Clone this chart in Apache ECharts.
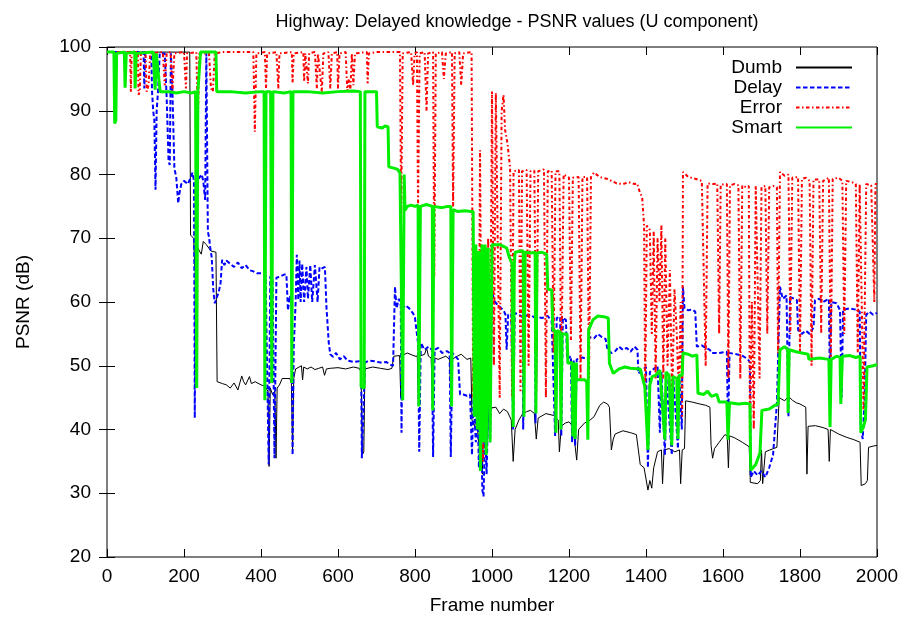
<!DOCTYPE html>
<html>
<head>
<meta charset="utf-8">
<title>Highway PSNR (U component)</title>
<script src="https://cdn.jsdelivr.net/npm/echarts@6/dist/echarts.min.js"></script>
<style>
  html, body { margin: 0; padding: 0; background: #fff; }
  #chart { width: 907px; height: 621px; }
</style>
</head>
<body>
<div id="chart"></div>
<script>
// Axis ranges and ticks
const frameTicks = [0, 200, 400, 600, 800, 1000, 1200, 1400, 1600, 1800, 2000];
const psnrTicks = [20, 30, 40, 50, 60, 70, 80, 90, 100];
const seriesNames = ['Dumb', 'Delay', 'Error', 'Smart'];

// [frame, PSNR dB] samples per scheme
const dumb = [[0,99.2],[215,99.2],[217,70.5],[225,70],[228,65.5],[232,69],[240,68],[245,67.5],[250,69.5],[258,69],[270,68],[283,67.8],[286,47.5],[300,47.2],[310,47],[320,46.5],[330,47.3],[340,46.2],[350,48.4],[355,47.5],[360,47],[370,48.3],[375,47.2],[385,47.5],[400,47],[410,46.8],[418,46],[421,34.2],[424,46.5],[430,45.5],[436,46],[439,35.5],[442,46.5],[448,47],[455,48],[460,47.8],[475,48],[479,47.2],[482,36.5],[485,48],[490,49.5],[495,49.8],[505,50],[508,47.8],[511,49.8],[520,49.5],[530,49.8],[540,49.4],[550,49.6],[560,49.8],[565,48.5],[570,49.5],[580,49.6],[600,49.7],[620,49.5],[640,49.8],[655,49.6],[660,49],[663,36],[667,36.5],[670,49.5],[690,49.8],[710,49.6],[730,49.4],[740,49.6],[745,51.5],[760,51.6],[763,45],[766,51.6],[780,52],[800,51.5],[806,51.5],[809,44],[812,51.5],[825,51.8],[830,52.8],[835,51.5],[842,51.2],[845,45],[848,51.3],[860,51],[880,51.5],[890,51],[893,44],[896,51],[910,51.5],[920,51.8],[935,51],[945,51.2],[948,41.5],[955,40.5],[960,42],[965,38],[970,41],[975,33],[978,40],[985,36],[990,42],[1000,43.4],[1010,43.5],[1020,42.5],[1030,43.2],[1040,42.8],[1050,41.5],[1055,35],[1060,40],[1070,41.5],[1080,42.5],[1090,42.8],[1100,43],[1110,42.5],[1115,38.5],[1120,41.8],[1140,42.5],[1160,42.2],[1172,41.5],[1175,36.5],[1180,40.5],[1190,41],[1200,41.2],[1210,40.5],[1215,40.2],[1220,35.2],[1225,40],[1240,41],[1255,41.5],[1265,42],[1280,43.8],[1290,44.3],[1300,44],[1305,43.5],[1310,36.8],[1315,38.5],[1320,39.3],[1340,39.8],[1360,39.5],[1375,39.2],[1385,34.5],[1395,34],[1405,30.5],[1410,32],[1415,30.8],[1420,34],[1430,36.5],[1440,36.8],[1443,31.5],[1447,36.8],[1460,37],[1475,36.5],[1487,36.8],[1490,31.5],[1494,36.8],[1500,37],[1503,44.5],[1520,44.3],[1540,44],[1555,43.8],[1566,43.5],[1569,37.5],[1573,35.5],[1578,37],[1590,38],[1605,39.2],[1611,39],[1614,34],[1617,39],[1630,38.7],[1650,38],[1668,37.3],[1671,31.7],[1690,31.5],[1697,32],[1700,36.8],[1703,31.5],[1710,36.5],[1722,36.8],[1740,37.2],[1746,45],[1760,44.5],[1770,45.2],[1780,44.6],[1790,44.2],[1800,44],[1815,43.5],[1818,33],[1821,40.5],[1840,40.6],[1860,40.3],[1873,40],[1876,35],[1879,40],[1900,39.3],[1920,38.8],[1940,38.4],[1956,38],[1959,31.2],[1970,31.5],[1975,32],[1978,37.2],[1990,37.4],[2000,37.5]];

const delay = [[0,99.2],[95,99.2],[97,93.5],[99,99.2],[115,99.2],[117,93],[120,90],[123,88.5],[126,77.6],[129,90],[133,93.5],[137,99],[150,99],[155,92],[160,82],[163,81.5],[166,99],[170,93],[175,81],[180,79.5],[185,75.5],[188,77],[193,78.5],[200,79],[210,78.5],[216,79.3],[222,80.3],[226,79],[228,41.8],[231,79],[240,79.5],[246,80],[250,79],[255,76],[258,99],[262,71],[265,70.2],[268,68.6],[272,67],[276,62],[280,59.8],[284,60.5],[290,61.5],[295,63],[299,66.6],[305,65.8],[310,66.5],[320,66],[330,65.5],[340,66.2],[350,65.3],[360,65.8],[370,65],[380,64.8],[390,64.5],[405,64.5],[412,64.2],[416,64],[420,34.5],[424,64],[430,63.8],[435,35.5],[440,63.8],[450,64],[460,64.3],[466,64.3],[470,58.7],[475,61],[480,60],[482,36],[485,53],[490,60],[493,67.4],[497,60.3],[500,66.5],[503,60],[507,66],[512,60],[518,65.5],[522,60.5],[528,65.8],[533,60],[540,65.8],[547,60],[552,65.5],[560,65.3],[566,65.5],[570,59.2],[576,53.6],[580,51.8],[587,51.4],[595,52],[605,51],[615,51.5],[625,50.8],[640,50.6],[655,50.7],[660,50.3],[662,35.5],[667,35.8],[670,50.5],[680,50.8],[695,50.7],[710,50.5],[725,50.6],[735,50.2],[743,50],[748,62.4],[752,59],[758,60.5],[763,59.5],[765,39.5],[768,59],[775,59.5],[785,59],[795,58.2],[800,57.5],[808,53.5],[811,36.5],[815,53.6],[825,52.5],[835,53],[844,52.5],[847,35.7],[851,52.5],[860,52.8],[870,52],[883,52.3],[890,52],[893,35.7],[897,52],[905,51.5],[912,51],[917,45.5],[925,45.5],[935,45.3],[943,45.5],[948,36],[952,45],[958,38],[962,45],[966,34],[970,44],[975,30.5],[978,29.5],[982,40],[986,33],[990,44],[995,38],[1000,61.4],[1008,60],[1015,59.5],[1030,58.7],[1035,58],[1038,52.5],[1042,58],[1050,58.2],[1055,40],[1059,58.3],[1070,58],[1080,57.6],[1081,40],[1085,57.8],[1100,58],[1112,57.5],[1113,41],[1117,57.6],[1130,57.5],[1145,57.8],[1155,57],[1158,56.7],[1164,39],[1168,57.5],[1177,57.7],[1180,39],[1184,57.5],[1192,57.2],[1195,51],[1205,51.5],[1208,38],[1212,51],[1216,37.5],[1220,51],[1235,51.3],[1249,51],[1252,54.5],[1265,54.3],[1275,55],[1285,54.5],[1295,54.2],[1300,52.5],[1310,52],[1320,52.3],[1330,53],[1340,52.5],[1350,52.8],[1360,52.2],[1370,53],[1378,52.5],[1380,48.8],[1390,49.3],[1400,49.8],[1405,34],[1410,49],[1420,49.5],[1430,50],[1436,39.5],[1440,49],[1449,36],[1453,48],[1467,36],[1471,48],[1483,37],[1487,48],[1493,40],[1496,62.4],[1500,59],[1510,58.7],[1520,58.8],[1528,58.5],[1532,53],[1545,53.2],[1555,52.8],[1566,52.5],[1570,52],[1590,52],[1610,52.2],[1613,40],[1617,52],[1635,51.8],[1650,51.6],[1665,51],[1670,50.5],[1672,32.5],[1680,33.5],[1690,32.8],[1700,33.5],[1710,32.5],[1720,34],[1730,36],[1740,44.1],[1748,62.4],[1755,60.5],[1765,61],[1770,42],[1774,60.8],[1785,60.5],[1792,60.3],[1795,55.6],[1805,55],[1815,55.5],[1825,55],[1835,56],[1839,60.3],[1850,60.5],[1860,60],[1875,60.5],[1878,46],[1881,60],[1895,59.8],[1904,58.7],[1908,45],[1912,58.8],[1930,59],[1945,58.8],[1955,58.5],[1958,40],[1963,38.5],[1968,45],[1972,58],[1980,58.5],[1990,58],[2000,58.3]];

const error = [[0,99.2],[60,99.2],[62,93],[64,99.2],[80,99.2],[82,92.5],[85,93],[88,99],[100,99.2],[103,93],[108,94],[112,99],[145,99.2],[150,94],[155,99],[165,99.2],[170,93],[175,99],[200,99.2],[205,93.5],[208,99],[232,99.2],[236,88.5],[240,99],[265,99],[270,93.5],[275,93],[280,99],[300,99.2],[380,99.2],[384,86.7],[388,99],[400,99.1],[410,99.2],[413,93.5],[416,99],[440,99.2],[445,93.5],[448,99],[480,99.2],[482,94.3],[485,99],[510,99.2],[512,94.5],[515,99],[522,94.3],[525,99],[540,99.2],[545,93.5],[548,99],[558,93],[562,99],[575,99.2],[580,93.5],[584,99],[598,99.2],[600,93.5],[604,99],[620,99.2],[624,93],[628,95],[632,93],[636,99],[640,94],[644,99],[675,99.2],[677,94.3],[680,99],[700,99.2],[720,99.2],[740,99.2],[761,99.2],[764,73],[768,99],[790,99.2],[795,94],[799,99],[805,99.2],[808,75],[812,99],[825,99.2],[830,90],[834,99],[847,99.2],[850,64],[854,99],[870,99.2],[875,95],[880,99],[896,99.2],[899,75],[903,99],[915,99.2],[920,94],[925,99],[947,99.2],[951,45],[955,65],[960,47],[965,40],[969,83.8],[973,45],[977,35],[982,60],[986,40],[990,70],[995,45],[1000,93],[1005,50],[1010,92.8],[1015,92.8],[1020,45],[1025,90],[1030,92.5],[1034,87],[1040,85],[1047,81],[1052,45],[1056,80.5],[1070,80.7],[1074,46],[1078,80.5],[1090,80.7],[1095,50],[1100,80.5],[1110,80.6],[1115,46],[1120,80.5],[1135,80.8],[1140,45],[1145,80.5],[1155,80.6],[1160,52],[1165,80.5],[1175,80.5],[1180,48],[1186,80],[1200,79.5],[1205,54],[1210,79.5],[1225,79.6],[1230,48],[1235,79.6],[1247,79.6],[1252,48],[1257,79.6],[1265,80.3],[1280,79.6],[1300,79.3],[1310,79],[1324,78.6],[1340,78.5],[1355,78.8],[1370,78.5],[1377,78.6],[1385,77],[1390,76.5],[1395,72],[1398,45],[1402,72],[1410,71.3],[1415,55],[1420,71],[1425,48],[1430,70],[1435,60],[1440,72],[1445,48],[1450,70],[1456,50],[1462,65],[1468,45],[1474,62],[1480,55],[1485,45],[1490,60],[1494,42],[1496,80.4],[1510,79.6],[1530,79.3],[1545,79],[1550,78.8],[1555,50],[1560,78.6],[1575,78.5],[1585,78.6],[1590,55],[1594,78.4],[1610,78.5],[1614,48],[1618,78.3],[1630,78.5],[1640,78.3],[1645,48],[1650,78.3],[1660,78],[1667,78.2],[1670,38],[1675,60],[1680,40],[1685,78.3],[1690,78],[1695,48],[1700,78],[1710,78.2],[1715,55],[1720,78],[1730,78.2],[1740,78],[1743,52],[1748,80.4],[1760,79.8],[1770,80],[1775,55],[1780,79.5],[1795,79.6],[1800,52],[1805,79.3],[1815,79.5],[1825,79],[1830,50],[1835,79.2],[1850,79.2],[1855,55],[1860,79],[1875,79.5],[1880,50],[1885,79.3],[1900,79.5],[1910,79],[1915,55],[1920,79],[1935,78.8],[1945,78.5],[1950,52],[1955,78.5],[1960,78.7],[1965,43],[1972,78.5],[1985,78.3],[1990,78.6],[1993,60],[1996,78.5],[2000,78.5]];

const smart = [[0,99.2],[18,99.2],[20,88],[23,88.5],[25,99],[45,99.2],[47,93.6],[50,99],[72,99.2],[73,93.5],[76,99],[120,99.2],[125,93.3],[128,99],[133,99.2],[138,93],[160,93],[180,92.8],[200,93],[220,92.8],[230,93],[233,46.5],[236,93],[241,93],[243,99.2],[283,99.2],[285,93],[320,93],[360,92.8],[400,93],[408,93],[410,44.6],[413,93],[425,93],[428,47.3],[431,93],[460,92.8],[478,93],[480,47.3],[483,93],[520,93],[560,92.8],[600,93],[640,93.1],[658,93],[660,46.7],[668,46.5],[670,93],[700,93],[702,87.5],[715,87.3],[722,87.6],[730,87.5],[732,81.2],[745,81],[755,80.8],[761,80.2],[766,80.5],[768,44.6],[772,80],[774,74.4],[780,75],[790,75.2],[800,75],[808,75.2],[810,43.6],[814,75],[830,75.3],[845,75],[846,43],[849,75],[870,74.8],[885,75],[893,75],[895,43.6],[899,74.5],[910,74.2],[930,74.3],[945,74.2],[951,74.2],[954,42],[958,69],[962,40],[966,68],[970,33.5],[974,69],[978,38],[982,69],[985,36],[990,68.5],[995,38],[1000,69],[1020,69],[1038,68.5],[1045,67],[1052,66],[1055,40.4],[1058,66],[1060,67.8],[1075,68],[1081,68],[1083,42],[1086,67.8],[1100,67.7],[1112,67.8],[1114,42.5],[1117,67.7],[1130,67.8],[1142,67.5],[1145,62],[1155,61.9],[1158,55.6],[1164,55.5],[1166,39.5],[1169,55.5],[1177,55.3],[1179,40],[1182,55],[1195,55],[1197,50.4],[1208,50.5],[1210,38.9],[1213,50.5],[1216,38.5],[1219,50.5],[1220,47.8],[1240,47.8],[1246,47.5],[1249,38.4],[1251,55.6],[1262,57.2],[1275,57.8],[1290,57.7],[1302,57.5],[1305,50.4],[1315,48.8],[1330,49.5],[1345,49.8],[1360,49.6],[1385,49.5],[1397,46.7],[1405,36.8],[1410,47],[1416,48.3],[1425,48.5],[1436,49.3],[1449,38.4],[1452,49],[1460,48.5],[1467,37.5],[1470,48.3],[1480,48],[1483,38.5],[1486,48.5],[1494,48.5],[1496,52],[1510,51.8],[1520,51.5],[1532,51.7],[1535,45.7],[1550,45.5],[1560,46],[1570,45.2],[1584,45.5],[1590,44.3],[1610,44.3],[1613,38.4],[1617,44.2],[1640,44],[1660,44.1],[1670,44],[1672,33.6],[1685,34.5],[1696,36.3],[1701,43],[1720,43.2],[1735,43.8],[1743,44],[1748,52.5],[1760,53],[1768,52.5],[1769,42.6],[1772,52.5],[1790,52.2],[1805,52],[1821,51.8],[1823,51],[1850,51.2],[1875,51],[1878,40.4],[1881,51],[1895,51.5],[1904,51.3],[1906,44],[1910,51.5],[1930,51.6],[1945,51.3],[1956,51.5],[1958,39.5],[1965,40.5],[1970,41.5],[1974,49.8],[1990,50],[2000,50.2]];

const FONT = '"Liberation Sans", Arial, sans-serif';
const FONT_SIZE = 19;

const chart = echarts.init(document.getElementById('chart'), null, { renderer: 'canvas' });

const xMin = frameTicks[0], xMax = frameTicks[frameTicks.length - 1];
const yMin = psnrTicks[0], yMax = psnrTicks[psnrTicks.length - 1];

function axisCommon(showLabels, margin) {
  return {
    axisLine: { show: false },
    axisTick: { show: true, inside: true, length: 8, lineStyle: { color: '#000', width: 1 } },
    axisLabel: {
      show: showLabels, color: '#000', fontSize: FONT_SIZE, fontFamily: FONT, margin: margin,
      formatter: v => String(v)
    },
    splitLine: { show: false }
  };
}

const styles = {
  Dumb:  { color: '#000000', width: 1, type: 'solid' },
  Delay: { color: '#0000ff', width: 2, type: [4.5, 2.5] },
  Error: { color: '#ff0000', width: 2, type: [3.5, 2.5, 1.5, 2.5] },
  Smart: { color: '#00ee00', width: 3, type: 'solid' }
};
const dataByName = { Dumb: dumb, Delay: delay, Error: error, Smart: smart };

// One legend per entry, each anchored on its right edge so the samples line up;
// positioned from the bottom of the canvas so the default placement is overridden
const legendBottoms = [544, 524, 504, 484];
const legends = seriesNames.map((name, i) => ({
  show: true,
  data: [name],
  orient: 'vertical',
  left: 'auto',
  right: 54,
  top: 'auto',
  bottom: legendBottoms[i],
  align: 'right',
  padding: 0,
  itemWidth: 56,
  itemHeight: 14,
  itemGap: 0,
  selectedMode: false,
  itemStyle: { opacity: 0 },
  textStyle: { color: '#000', fontSize: FONT_SIZE, fontFamily: FONT, padding: [0, 9, 0, 0] }
}));

chart.setOption({
  animation: false,
  backgroundColor: '#fff',
  title: {
    text: 'Highway: Delayed knowledge - PSNR values (U component)',
    left: 512,
    textAlign: 'center',
    top: 8,
    textStyle: { color: '#000', fontSize: 18, fontWeight: 'normal', fontFamily: FONT }
  },
  legend: legends,
  grid: { left: 107, right: 30, top: 47, bottom: 64, show: true, borderColor: '#000', borderWidth: 1, backgroundColor: 'transparent', containLabel: false, outerBoundsMode: 'none' },
  xAxis: [
    Object.assign(axisCommon(true, 10), {
      type: 'value', min: xMin, max: xMax, interval: 200, position: 'bottom',
      name: 'Frame number', nameLocation: 'middle', nameGap: 39,
      nameTextStyle: { color: '#000', fontSize: FONT_SIZE, fontFamily: FONT }
    }),
    Object.assign(axisCommon(false, 10), { type: 'value', min: xMin, max: xMax, interval: 200, position: 'top' })
  ],
  yAxis: [
    Object.assign(axisCommon(true, 16), {
      type: 'value', min: yMin, max: yMax, interval: 10, position: 'left',
      name: 'PSNR (dB)', nameLocation: 'middle', nameGap: 74, nameRotate: 90,
      nameTextStyle: { color: '#000', fontSize: FONT_SIZE, fontFamily: FONT }
    }),
    Object.assign(axisCommon(false, 16), { type: 'value', min: yMin, max: yMax, interval: 10, position: 'right' })
  ],
  series: seriesNames.map(name => ({
    name: name,
    type: 'line',
    xAxisIndex: 0,
    yAxisIndex: 0,
    data: dataByName[name],
    symbol: 'none',
    showSymbol: false,
    clip: true,
    lineStyle: { color: styles[name].color, width: styles[name].width, type: styles[name].type },
    itemStyle: { color: styles[name].color },
    emphasis: { disabled: true }
  }))
});
</script>
</body>
</html>
